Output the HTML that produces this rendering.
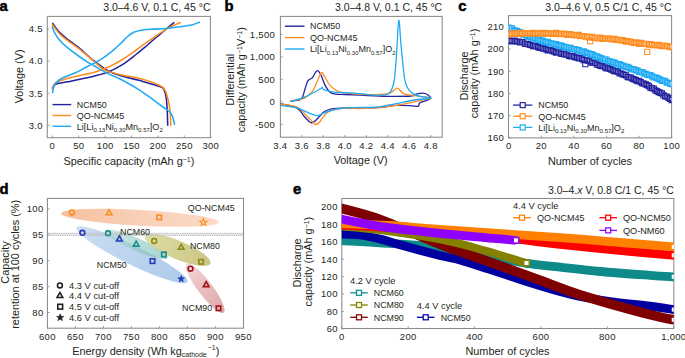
<!DOCTYPE html>
<html><head><meta charset="utf-8"><style>
html,body{margin:0;padding:0;background:#fff;width:685px;height:358px;overflow:hidden}
svg{display:block}
text{font-family:"Liberation Sans", sans-serif}
</style></head><body>
<svg width="685" height="358" viewBox="0 0 685 358">
<text x="-0.5" y="10.8" font-size="14.8" font-weight="bold" fill="#000" stroke="#000" stroke-width="0.5">a</text>
<text x="224.5" y="11" font-size="14.8" font-weight="bold" fill="#000" stroke="#000" stroke-width="0.5">b</text>
<text x="458.3" y="11" font-size="14.8" font-weight="bold" fill="#000" stroke="#000" stroke-width="0.5">c</text>
<text x="-0.5" y="194.2" font-size="14.8" font-weight="bold" fill="#000" stroke="#000" stroke-width="0.5">d</text>
<text x="293" y="194.2" font-size="14.8" font-weight="bold" fill="#000" stroke="#000" stroke-width="0.5">e</text>
<rect x="47.3" y="16.4" width="163.10000000000002" height="121.29999999999998" fill="none" stroke="#8a8a8a" stroke-width="1.05"/>
<line x1="52.40" y1="137.7" x2="52.40" y2="135.5" stroke="#8a8a8a" stroke-width="0.8"/>
<text x="52.40" y="149.42" font-size="9.5" text-anchor="middle" fill="#231f20" font-weight="normal" letter-spacing="0.3">0</text>
<line x1="78.80" y1="137.7" x2="78.80" y2="135.5" stroke="#8a8a8a" stroke-width="0.8"/>
<text x="78.80" y="149.42" font-size="9.5" text-anchor="middle" fill="#231f20" font-weight="normal" letter-spacing="0.3">50</text>
<line x1="105.20" y1="137.7" x2="105.20" y2="135.5" stroke="#8a8a8a" stroke-width="0.8"/>
<text x="105.20" y="149.42" font-size="9.5" text-anchor="middle" fill="#231f20" font-weight="normal" letter-spacing="0.3">100</text>
<line x1="131.60" y1="137.7" x2="131.60" y2="135.5" stroke="#8a8a8a" stroke-width="0.8"/>
<text x="131.60" y="149.42" font-size="9.5" text-anchor="middle" fill="#231f20" font-weight="normal" letter-spacing="0.3">150</text>
<line x1="158.00" y1="137.7" x2="158.00" y2="135.5" stroke="#8a8a8a" stroke-width="0.8"/>
<text x="158.00" y="149.42" font-size="9.5" text-anchor="middle" fill="#231f20" font-weight="normal" letter-spacing="0.3">200</text>
<line x1="184.40" y1="137.7" x2="184.40" y2="135.5" stroke="#8a8a8a" stroke-width="0.8"/>
<text x="184.40" y="149.42" font-size="9.5" text-anchor="middle" fill="#231f20" font-weight="normal" letter-spacing="0.3">250</text>
<line x1="210.80" y1="137.7" x2="210.80" y2="135.5" stroke="#8a8a8a" stroke-width="0.8"/>
<text x="210.80" y="149.42" font-size="9.5" text-anchor="middle" fill="#231f20" font-weight="normal" letter-spacing="0.3">300</text>
<line x1="47.3" y1="125.30" x2="49.5" y2="125.30" stroke="#8a8a8a" stroke-width="0.8"/>
<text x="42.80" y="128.62" font-size="9.5" text-anchor="end" fill="#231f20" font-weight="normal" letter-spacing="0.3">3.0</text>
<line x1="47.3" y1="93.20" x2="49.5" y2="93.20" stroke="#8a8a8a" stroke-width="0.8"/>
<text x="42.80" y="96.52" font-size="9.5" text-anchor="end" fill="#231f20" font-weight="normal" letter-spacing="0.3">3.5</text>
<line x1="47.3" y1="61.10" x2="49.5" y2="61.10" stroke="#8a8a8a" stroke-width="0.8"/>
<text x="42.80" y="64.42" font-size="9.5" text-anchor="end" fill="#231f20" font-weight="normal" letter-spacing="0.3">4.0</text>
<line x1="47.3" y1="29.00" x2="49.5" y2="29.00" stroke="#8a8a8a" stroke-width="0.8"/>
<text x="42.80" y="32.32" font-size="9.5" text-anchor="end" fill="#231f20" font-weight="normal" letter-spacing="0.3">4.5</text>
<text x="128.90" y="165.22" font-size="10.9" text-anchor="middle" fill="#231f20" font-weight="normal">Specific capacity (mAh g<tspan dy="-3" font-size="7">−1</tspan><tspan dy="3">)</tspan></text>
<text x="19.00" y="80.22" font-size="10.9" text-anchor="middle" fill="#231f20" font-weight="normal" transform="rotate(-90 19 76.4)">Voltage (V)</text>
<text x="210.50" y="10.88" font-size="10.5" text-anchor="end" fill="#231f20" font-weight="normal">3.0–4.6 V, 0.1 C, 45 °C</text>
<rect x="280.4" y="16.4" width="161.8" height="120.79999999999998" fill="none" stroke="#8a8a8a" stroke-width="1.05"/>
<line x1="280.40" y1="137.2" x2="280.40" y2="135.0" stroke="#8a8a8a" stroke-width="0.8"/>
<text x="280.40" y="148.82" font-size="9.5" text-anchor="middle" fill="#231f20" font-weight="normal" letter-spacing="0.3">3.4</text>
<line x1="301.89" y1="137.2" x2="301.89" y2="135.0" stroke="#8a8a8a" stroke-width="0.8"/>
<text x="301.89" y="148.82" font-size="9.5" text-anchor="middle" fill="#231f20" font-weight="normal" letter-spacing="0.3">3.6</text>
<line x1="323.38" y1="137.2" x2="323.38" y2="135.0" stroke="#8a8a8a" stroke-width="0.8"/>
<text x="323.38" y="148.82" font-size="9.5" text-anchor="middle" fill="#231f20" font-weight="normal" letter-spacing="0.3">3.8</text>
<line x1="344.87" y1="137.2" x2="344.87" y2="135.0" stroke="#8a8a8a" stroke-width="0.8"/>
<text x="344.87" y="148.82" font-size="9.5" text-anchor="middle" fill="#231f20" font-weight="normal" letter-spacing="0.3">4.0</text>
<line x1="366.36" y1="137.2" x2="366.36" y2="135.0" stroke="#8a8a8a" stroke-width="0.8"/>
<text x="366.36" y="148.82" font-size="9.5" text-anchor="middle" fill="#231f20" font-weight="normal" letter-spacing="0.3">4.2</text>
<line x1="387.85" y1="137.2" x2="387.85" y2="135.0" stroke="#8a8a8a" stroke-width="0.8"/>
<text x="387.85" y="148.82" font-size="9.5" text-anchor="middle" fill="#231f20" font-weight="normal" letter-spacing="0.3">4.4</text>
<line x1="409.34" y1="137.2" x2="409.34" y2="135.0" stroke="#8a8a8a" stroke-width="0.8"/>
<text x="409.34" y="148.82" font-size="9.5" text-anchor="middle" fill="#231f20" font-weight="normal" letter-spacing="0.3">4.6</text>
<line x1="430.83" y1="137.2" x2="430.83" y2="135.0" stroke="#8a8a8a" stroke-width="0.8"/>
<text x="430.83" y="148.82" font-size="9.5" text-anchor="middle" fill="#231f20" font-weight="normal" letter-spacing="0.3">4.8</text>
<line x1="280.4" y1="124.30" x2="282.59999999999997" y2="124.30" stroke="#8a8a8a" stroke-width="0.8"/>
<text x="275.10" y="127.62" font-size="9.5" text-anchor="end" fill="#231f20" font-weight="normal" letter-spacing="0.3">-500</text>
<line x1="280.4" y1="101.80" x2="282.59999999999997" y2="101.80" stroke="#8a8a8a" stroke-width="0.8"/>
<text x="275.10" y="105.12" font-size="9.5" text-anchor="end" fill="#231f20" font-weight="normal" letter-spacing="0.3">0</text>
<line x1="280.4" y1="79.30" x2="282.59999999999997" y2="79.30" stroke="#8a8a8a" stroke-width="0.8"/>
<text x="275.10" y="82.62" font-size="9.5" text-anchor="end" fill="#231f20" font-weight="normal" letter-spacing="0.3">500</text>
<line x1="280.4" y1="56.80" x2="282.59999999999997" y2="56.80" stroke="#8a8a8a" stroke-width="0.8"/>
<text x="275.10" y="60.12" font-size="9.5" text-anchor="end" fill="#231f20" font-weight="normal" letter-spacing="0.3">1,000</text>
<line x1="280.4" y1="34.30" x2="282.59999999999997" y2="34.30" stroke="#8a8a8a" stroke-width="0.8"/>
<text x="275.10" y="37.62" font-size="9.5" text-anchor="end" fill="#231f20" font-weight="normal" letter-spacing="0.3">1,500</text>
<text x="360.60" y="164.31" font-size="10.9" text-anchor="middle" fill="#231f20" font-weight="normal">Voltage (V)</text>
<text x="229.80" y="83.52" font-size="10.9" text-anchor="middle" fill="#231f20" font-weight="normal" transform="rotate(-90 229.8 79.7)">Differential</text>
<text x="241.20" y="83.52" font-size="10.9" text-anchor="middle" fill="#231f20" font-weight="normal" transform="rotate(-90 241.2 79.7)">capacity (mAh g<tspan dy="-3" font-size="7">−1</tspan><tspan dy="3">V</tspan><tspan dy="-3" font-size="7">−1</tspan><tspan dy="3">)</tspan></text>
<text x="442.20" y="10.88" font-size="10.5" text-anchor="end" fill="#231f20" font-weight="normal">3.0–4.8 V, 0.1 C, 45 °C</text>
<rect x="508.5" y="15.6" width="163.10000000000002" height="122.30000000000001" fill="none" stroke="#8a8a8a" stroke-width="1.05"/>
<line x1="508.70" y1="137.9" x2="508.70" y2="135.70000000000002" stroke="#8a8a8a" stroke-width="0.8"/>
<text x="508.70" y="149.32" font-size="9.5" text-anchor="middle" fill="#231f20" font-weight="normal" letter-spacing="0.3">0</text>
<line x1="541.30" y1="137.9" x2="541.30" y2="135.70000000000002" stroke="#8a8a8a" stroke-width="0.8"/>
<text x="541.30" y="149.32" font-size="9.5" text-anchor="middle" fill="#231f20" font-weight="normal" letter-spacing="0.3">20</text>
<line x1="573.90" y1="137.9" x2="573.90" y2="135.70000000000002" stroke="#8a8a8a" stroke-width="0.8"/>
<text x="573.90" y="149.32" font-size="9.5" text-anchor="middle" fill="#231f20" font-weight="normal" letter-spacing="0.3">40</text>
<line x1="606.50" y1="137.9" x2="606.50" y2="135.70000000000002" stroke="#8a8a8a" stroke-width="0.8"/>
<text x="606.50" y="149.32" font-size="9.5" text-anchor="middle" fill="#231f20" font-weight="normal" letter-spacing="0.3">60</text>
<line x1="639.10" y1="137.9" x2="639.10" y2="135.70000000000002" stroke="#8a8a8a" stroke-width="0.8"/>
<text x="639.10" y="149.32" font-size="9.5" text-anchor="middle" fill="#231f20" font-weight="normal" letter-spacing="0.3">80</text>
<line x1="671.70" y1="137.9" x2="671.70" y2="135.70000000000002" stroke="#8a8a8a" stroke-width="0.8"/>
<text x="671.70" y="149.32" font-size="9.5" text-anchor="middle" fill="#231f20" font-weight="normal" letter-spacing="0.3">100</text>
<line x1="508.5" y1="137.90" x2="510.7" y2="137.90" stroke="#8a8a8a" stroke-width="0.8"/>
<text x="504.20" y="141.22" font-size="9.5" text-anchor="end" fill="#231f20" font-weight="normal" letter-spacing="0.3">160</text>
<line x1="508.5" y1="115.68" x2="510.7" y2="115.68" stroke="#8a8a8a" stroke-width="0.8"/>
<text x="504.20" y="119.01" font-size="9.5" text-anchor="end" fill="#231f20" font-weight="normal" letter-spacing="0.3">170</text>
<line x1="508.5" y1="93.46" x2="510.7" y2="93.46" stroke="#8a8a8a" stroke-width="0.8"/>
<text x="504.20" y="96.79" font-size="9.5" text-anchor="end" fill="#231f20" font-weight="normal" letter-spacing="0.3">180</text>
<line x1="508.5" y1="71.24" x2="510.7" y2="71.24" stroke="#8a8a8a" stroke-width="0.8"/>
<text x="504.20" y="74.57" font-size="9.5" text-anchor="end" fill="#231f20" font-weight="normal" letter-spacing="0.3">190</text>
<line x1="508.5" y1="49.02" x2="510.7" y2="49.02" stroke="#8a8a8a" stroke-width="0.8"/>
<text x="504.20" y="52.35" font-size="9.5" text-anchor="end" fill="#231f20" font-weight="normal" letter-spacing="0.3">200</text>
<line x1="508.5" y1="26.80" x2="510.7" y2="26.80" stroke="#8a8a8a" stroke-width="0.8"/>
<text x="504.20" y="30.13" font-size="9.5" text-anchor="end" fill="#231f20" font-weight="normal" letter-spacing="0.3">210</text>
<text x="590.00" y="164.91" font-size="10.9" text-anchor="middle" fill="#231f20" font-weight="normal">Number of cycles</text>
<text x="463.70" y="79.72" font-size="10.9" text-anchor="middle" fill="#231f20" font-weight="normal" transform="rotate(-90 463.7 75.9)">Discharge</text>
<text x="474.10" y="77.31" font-size="10.9" text-anchor="middle" fill="#231f20" font-weight="normal" transform="rotate(-90 474.1 73.5)">capacity (mAh g<tspan dy="-3" font-size="7">−1</tspan><tspan dy="3">)</tspan></text>
<text x="671.60" y="10.88" font-size="10.5" text-anchor="end" fill="#231f20" font-weight="normal">3.0–4.6 V, 0.5 C/1 C, 45 °C</text>
<rect x="47.4" y="198.4" width="196.1" height="129.79999999999998" fill="none" stroke="#8a8a8a" stroke-width="1.05"/>
<line x1="47.40" y1="328.2" x2="47.40" y2="326.0" stroke="#8a8a8a" stroke-width="0.8"/>
<text x="47.40" y="339.62" font-size="9.5" text-anchor="middle" fill="#231f20" font-weight="normal" letter-spacing="0.3">600</text>
<line x1="75.40" y1="328.2" x2="75.40" y2="326.0" stroke="#8a8a8a" stroke-width="0.8"/>
<text x="75.40" y="339.62" font-size="9.5" text-anchor="middle" fill="#231f20" font-weight="normal" letter-spacing="0.3">650</text>
<line x1="103.40" y1="328.2" x2="103.40" y2="326.0" stroke="#8a8a8a" stroke-width="0.8"/>
<text x="103.40" y="339.62" font-size="9.5" text-anchor="middle" fill="#231f20" font-weight="normal" letter-spacing="0.3">700</text>
<line x1="131.40" y1="328.2" x2="131.40" y2="326.0" stroke="#8a8a8a" stroke-width="0.8"/>
<text x="131.40" y="339.62" font-size="9.5" text-anchor="middle" fill="#231f20" font-weight="normal" letter-spacing="0.3">750</text>
<line x1="159.40" y1="328.2" x2="159.40" y2="326.0" stroke="#8a8a8a" stroke-width="0.8"/>
<text x="159.40" y="339.62" font-size="9.5" text-anchor="middle" fill="#231f20" font-weight="normal" letter-spacing="0.3">800</text>
<line x1="187.40" y1="328.2" x2="187.40" y2="326.0" stroke="#8a8a8a" stroke-width="0.8"/>
<text x="187.40" y="339.62" font-size="9.5" text-anchor="middle" fill="#231f20" font-weight="normal" letter-spacing="0.3">850</text>
<line x1="215.40" y1="328.2" x2="215.40" y2="326.0" stroke="#8a8a8a" stroke-width="0.8"/>
<text x="215.40" y="339.62" font-size="9.5" text-anchor="middle" fill="#231f20" font-weight="normal" letter-spacing="0.3">900</text>
<line x1="243.40" y1="328.2" x2="243.40" y2="326.0" stroke="#8a8a8a" stroke-width="0.8"/>
<text x="243.40" y="339.62" font-size="9.5" text-anchor="middle" fill="#231f20" font-weight="normal" letter-spacing="0.3">950</text>
<line x1="47.4" y1="312.50" x2="49.6" y2="312.50" stroke="#8a8a8a" stroke-width="0.8"/>
<text x="43.50" y="315.82" font-size="9.5" text-anchor="end" fill="#231f20" font-weight="normal" letter-spacing="0.3">80</text>
<line x1="47.4" y1="286.62" x2="49.6" y2="286.62" stroke="#8a8a8a" stroke-width="0.8"/>
<text x="43.50" y="289.95" font-size="9.5" text-anchor="end" fill="#231f20" font-weight="normal" letter-spacing="0.3">85</text>
<line x1="47.4" y1="260.75" x2="49.6" y2="260.75" stroke="#8a8a8a" stroke-width="0.8"/>
<text x="43.50" y="264.07" font-size="9.5" text-anchor="end" fill="#231f20" font-weight="normal" letter-spacing="0.3">90</text>
<line x1="47.4" y1="234.88" x2="49.6" y2="234.88" stroke="#8a8a8a" stroke-width="0.8"/>
<text x="43.50" y="238.20" font-size="9.5" text-anchor="end" fill="#231f20" font-weight="normal" letter-spacing="0.3">95</text>
<line x1="47.4" y1="209.00" x2="49.6" y2="209.00" stroke="#8a8a8a" stroke-width="0.8"/>
<text x="43.50" y="212.32" font-size="9.5" text-anchor="end" fill="#231f20" font-weight="normal" letter-spacing="0.3">100</text>
<text x="145.80" y="354.81" font-size="10.9" text-anchor="middle" fill="#231f20" font-weight="normal">Energy density (Wh kg<tspan dy="2.5" font-size="7">cathode</tspan><tspan dy="-7" font-size="7" dx="1">−1</tspan><tspan dy="4.5">)</tspan></text>
<text x="5.00" y="266.31" font-size="10.9" text-anchor="middle" fill="#231f20" font-weight="normal" transform="rotate(-90 5.0 262.5)">Capacity</text>
<text x="15.50" y="268.12" font-size="10.9" text-anchor="middle" fill="#231f20" font-weight="normal" transform="rotate(-90 15.5 264.3)">retention at 100 cycles (%)</text>
<rect x="341.8" y="198.5" width="331.99999999999994" height="130.0" fill="none" stroke="#8a8a8a" stroke-width="1.05"/>
<line x1="341.80" y1="328.5" x2="341.80" y2="326.3" stroke="#8a8a8a" stroke-width="0.8"/>
<text x="341.80" y="339.52" font-size="9.5" text-anchor="middle" fill="#231f20" font-weight="normal" letter-spacing="0.3">0</text>
<line x1="408.20" y1="328.5" x2="408.20" y2="326.3" stroke="#8a8a8a" stroke-width="0.8"/>
<text x="408.20" y="339.52" font-size="9.5" text-anchor="middle" fill="#231f20" font-weight="normal" letter-spacing="0.3">200</text>
<line x1="474.60" y1="328.5" x2="474.60" y2="326.3" stroke="#8a8a8a" stroke-width="0.8"/>
<text x="474.60" y="339.52" font-size="9.5" text-anchor="middle" fill="#231f20" font-weight="normal" letter-spacing="0.3">400</text>
<line x1="541.00" y1="328.5" x2="541.00" y2="326.3" stroke="#8a8a8a" stroke-width="0.8"/>
<text x="541.00" y="339.52" font-size="9.5" text-anchor="middle" fill="#231f20" font-weight="normal" letter-spacing="0.3">600</text>
<line x1="607.40" y1="328.5" x2="607.40" y2="326.3" stroke="#8a8a8a" stroke-width="0.8"/>
<text x="607.40" y="339.52" font-size="9.5" text-anchor="middle" fill="#231f20" font-weight="normal" letter-spacing="0.3">800</text>
<line x1="673.80" y1="328.5" x2="673.80" y2="326.3" stroke="#8a8a8a" stroke-width="0.8"/>
<text x="673.80" y="339.52" font-size="9.5" text-anchor="middle" fill="#231f20" font-weight="normal" letter-spacing="0.3">1,000</text>
<line x1="341.8" y1="328.80" x2="344.0" y2="328.80" stroke="#8a8a8a" stroke-width="0.8"/>
<text x="337.80" y="332.12" font-size="9.5" text-anchor="end" fill="#231f20" font-weight="normal" letter-spacing="0.3">60</text>
<line x1="341.8" y1="311.40" x2="344.0" y2="311.40" stroke="#8a8a8a" stroke-width="0.8"/>
<text x="337.80" y="314.72" font-size="9.5" text-anchor="end" fill="#231f20" font-weight="normal" letter-spacing="0.3">80</text>
<line x1="341.8" y1="294.00" x2="344.0" y2="294.00" stroke="#8a8a8a" stroke-width="0.8"/>
<text x="337.80" y="297.32" font-size="9.5" text-anchor="end" fill="#231f20" font-weight="normal" letter-spacing="0.3">100</text>
<line x1="341.8" y1="276.60" x2="344.0" y2="276.60" stroke="#8a8a8a" stroke-width="0.8"/>
<text x="337.80" y="279.93" font-size="9.5" text-anchor="end" fill="#231f20" font-weight="normal" letter-spacing="0.3">120</text>
<line x1="341.8" y1="259.20" x2="344.0" y2="259.20" stroke="#8a8a8a" stroke-width="0.8"/>
<text x="337.80" y="262.52" font-size="9.5" text-anchor="end" fill="#231f20" font-weight="normal" letter-spacing="0.3">140</text>
<line x1="341.8" y1="241.80" x2="344.0" y2="241.80" stroke="#8a8a8a" stroke-width="0.8"/>
<text x="337.80" y="245.12" font-size="9.5" text-anchor="end" fill="#231f20" font-weight="normal" letter-spacing="0.3">160</text>
<line x1="341.8" y1="224.40" x2="344.0" y2="224.40" stroke="#8a8a8a" stroke-width="0.8"/>
<text x="337.80" y="227.72" font-size="9.5" text-anchor="end" fill="#231f20" font-weight="normal" letter-spacing="0.3">180</text>
<line x1="341.8" y1="207.00" x2="344.0" y2="207.00" stroke="#8a8a8a" stroke-width="0.8"/>
<text x="337.80" y="210.32" font-size="9.5" text-anchor="end" fill="#231f20" font-weight="normal" letter-spacing="0.3">200</text>
<text x="507.50" y="355.01" font-size="10.9" text-anchor="middle" fill="#231f20" font-weight="normal">Number of cycles</text>
<text x="297.60" y="266.81" font-size="10.9" text-anchor="middle" fill="#231f20" font-weight="normal" transform="rotate(-90 297.6 263)">Discharge</text>
<text x="308.60" y="265.42" font-size="10.9" text-anchor="middle" fill="#231f20" font-weight="normal" transform="rotate(-90 308.6 261.6)">capacity (mAh g<tspan dy="-3" font-size="7">−1</tspan><tspan dy="3">)</tspan></text>
<text x="673.80" y="193.88" font-size="10.5" text-anchor="end" fill="#231f20" font-weight="normal">3.0–4.<tspan font-style="italic">x</tspan> V, 0.8 C/1 C, 45 °C</text>
<path d="M52.70,23.40 C53.75,24.80 56.78,29.37 59.00,31.80 C61.22,34.23 62.50,35.18 66.00,38.00 C69.50,40.82 75.50,45.03 80.00,48.70 C84.50,52.37 88.35,56.32 93.00,60.00 C97.65,63.68 103.08,68.13 107.90,70.80 C112.72,73.47 116.55,74.37 121.90,76.00 C127.25,77.63 133.57,78.80 140.00,80.60 C146.43,82.40 156.45,85.13 160.50,86.80 C164.55,88.47 163.35,88.73 164.30,90.60 C165.25,92.47 165.72,94.77 166.20,98.00 C166.68,101.23 166.95,105.47 167.20,110.00 C167.45,114.53 167.62,122.67 167.70,125.20" fill="none" stroke="#2323a0" stroke-width="1.55" stroke-linejoin="round" stroke-linecap="round"/>
<path d="M52.30,88.00 C52.95,87.33 53.68,85.03 56.20,84.00 C58.72,82.97 63.67,82.53 67.40,81.80 C71.13,81.07 74.08,80.57 78.60,79.60 C83.12,78.63 89.52,77.28 94.50,76.00 C99.48,74.72 103.85,73.80 108.50,71.90 C113.15,70.00 117.82,67.50 122.40,64.60 C126.98,61.70 132.23,57.40 136.00,54.50 C139.77,51.60 142.33,49.45 145.00,47.20 C147.67,44.95 149.50,43.15 152.00,41.00 C154.50,38.85 157.25,36.60 160.00,34.30 C162.75,32.00 166.18,29.13 168.50,27.20 C170.82,25.27 173.00,23.45 173.90,22.70" fill="none" stroke="#2323a0" stroke-width="1.55" stroke-linejoin="round" stroke-linecap="round"/>
<path d="M52.30,24.50 C53.42,25.95 56.72,30.72 59.00,33.20 C61.28,35.68 62.50,36.68 66.00,39.40 C69.50,42.12 75.42,45.90 80.00,49.50 C84.58,53.10 89.32,57.57 93.50,61.00 C97.68,64.43 100.37,67.77 105.10,70.10 C109.83,72.43 116.08,73.60 121.90,75.00 C127.72,76.40 133.87,76.83 140.00,78.50 C146.13,80.17 154.50,82.98 158.70,85.00 C162.90,87.02 163.48,87.48 165.20,90.60 C166.92,93.72 168.17,99.97 169.00,103.70 C169.83,107.43 169.90,109.42 170.20,113.00 C170.50,116.58 170.70,123.17 170.80,125.20" fill="none" stroke="#ff8c1f" stroke-width="1.55" stroke-linejoin="round" stroke-linecap="round"/>
<path d="M52.30,89.10 C52.57,88.35 53.07,85.82 53.90,84.60 C54.73,83.38 55.05,82.82 57.30,81.80 C59.55,80.78 63.85,79.52 67.40,78.50 C70.95,77.48 74.08,76.73 78.60,75.70 C83.12,74.67 89.52,73.75 94.50,72.30 C99.48,70.85 103.85,69.13 108.50,67.00 C113.15,64.87 117.67,62.42 122.40,59.50 C127.13,56.58 132.02,52.95 136.90,49.50 C141.78,46.05 146.43,42.42 151.70,38.80 C156.97,35.18 163.75,30.48 168.50,27.80 C173.25,25.12 178.25,23.55 180.20,22.70" fill="none" stroke="#ff8c1f" stroke-width="1.55" stroke-linejoin="round" stroke-linecap="round"/>
<path d="M52.30,26.90 C52.72,27.95 53.68,31.12 54.80,33.20 C55.92,35.28 57.13,37.20 59.00,39.40 C60.87,41.60 62.52,43.47 66.00,46.40 C69.48,49.33 76.23,54.35 79.90,57.00 C83.57,59.65 85.57,60.80 88.00,62.30 C90.43,63.80 91.18,64.12 94.50,66.00 C97.82,67.88 103.15,71.18 107.90,73.60 C112.65,76.02 117.40,77.55 123.00,80.50 C128.60,83.45 134.93,86.97 141.50,91.30 C148.07,95.63 157.67,103.05 162.40,106.50 C167.13,109.95 168.22,110.33 169.90,112.00 C171.58,113.67 171.72,114.45 172.50,116.50 C173.28,118.55 174.25,123.00 174.60,124.30" fill="none" stroke="#1eaaf4" stroke-width="1.55" stroke-linejoin="round" stroke-linecap="round"/>
<path d="M52.60,92.70 C52.83,91.58 53.18,87.90 54.00,86.00 C54.82,84.10 55.83,82.75 57.50,81.30 C59.17,79.85 61.00,78.72 64.00,77.30 C67.00,75.88 71.67,74.55 75.50,72.80 C79.33,71.05 82.82,69.00 87.00,66.80 C91.18,64.60 96.60,62.03 100.60,59.60 C104.60,57.17 107.65,54.88 111.00,52.20 C114.35,49.52 118.03,46.03 120.70,43.50 C123.37,40.97 124.90,38.83 127.00,37.00 C129.10,35.17 131.13,33.58 133.30,32.50 C135.47,31.42 137.05,31.03 140.00,30.50 C142.95,29.97 146.25,29.68 151.00,29.30 C155.75,28.92 162.80,28.75 168.50,28.20 C174.20,27.65 181.02,26.63 185.20,26.00 C189.38,25.37 191.22,25.03 193.60,24.40 C195.98,23.77 198.52,22.57 199.50,22.20" fill="none" stroke="#1eaaf4" stroke-width="1.55" stroke-linejoin="round" stroke-linecap="round"/>
<line x1="52.5" y1="104.6" x2="71.2" y2="104.6" stroke="#2323a0" stroke-width="1.4"/>
<line x1="52.5" y1="115.5" x2="71.2" y2="115.5" stroke="#ff8c1f" stroke-width="1.4"/>
<line x1="52.5" y1="126.3" x2="71.2" y2="126.3" stroke="#1eaaf4" stroke-width="1.4"/>
<text x="76.80" y="107.85" font-size="9.3" text-anchor="start" fill="#231f20" font-weight="normal" textLength="30" lengthAdjust="spacingAndGlyphs">NCM50</text>
<text x="76.80" y="118.75" font-size="9.3" text-anchor="start" fill="#231f20" font-weight="normal" textLength="47.5" lengthAdjust="spacingAndGlyphs">QO-NCM45</text>
<text x="76.80" y="129.56" font-size="9.3" text-anchor="start" fill="#231f20" font-weight="normal" textLength="86" lengthAdjust="spacingAndGlyphs">Li[Li<tspan font-size="6.2" dy="2.6">0.13</tspan><tspan dy="-2.6">Ni</tspan><tspan font-size="6.2" dy="2.6">0.30</tspan><tspan dy="-2.6">Mn</tspan><tspan font-size="6.2" dy="2.6">0.57</tspan><tspan dy="-2.6">]O</tspan><tspan font-size="6.2" dy="2.6">2</tspan></text>
<defs><clipPath id="cb"><rect x="280.4" y="16.4" width="161.8" height="120.8"/></clipPath></defs>
<path d="M290.90,100.90 C292.33,100.72 297.55,100.43 299.50,99.80 C301.45,99.17 301.68,98.90 302.60,97.10 C303.52,95.30 304.18,91.60 305.00,89.00 C305.82,86.40 306.77,83.08 307.50,81.50 C308.23,79.92 308.58,80.15 309.40,79.50 C310.22,78.85 311.10,79.07 312.40,77.60 C313.70,76.13 315.73,71.03 317.20,70.70 C318.67,70.37 319.88,73.15 321.20,75.60 C322.52,78.05 323.63,82.63 325.10,85.40 C326.57,88.17 328.22,90.73 330.00,92.20 C331.78,93.67 333.30,93.82 335.80,94.20 C338.30,94.58 340.97,94.35 345.00,94.50 C349.03,94.65 352.97,94.80 360.00,95.10 C367.03,95.40 378.72,96.15 387.20,96.30 C395.68,96.45 406.05,96.37 410.90,96.00 C415.75,95.63 414.33,94.57 416.30,94.10 C418.27,93.63 420.88,93.13 422.70,93.20 C424.52,93.27 425.85,93.68 427.20,94.50 C428.55,95.32 431.10,97.03 430.80,98.10 C430.50,99.17 427.22,100.13 425.40,100.90 C423.58,101.67 421.12,101.80 419.90,102.70 C418.68,103.60 419.30,105.78 418.10,106.30 C416.90,106.82 416.33,105.95 412.70,105.80 C409.07,105.65 402.05,105.10 396.30,105.40 C390.55,105.70 384.25,107.20 378.20,107.60 C372.15,108.00 365.53,107.75 360.00,107.80 C354.47,107.85 349.68,107.72 345.00,107.90 C340.32,108.08 335.38,108.25 331.90,108.90 C328.42,109.55 326.22,110.50 324.10,111.80 C321.98,113.10 320.83,115.07 319.20,116.70 C317.57,118.33 315.77,120.63 314.30,121.60 C312.83,122.57 312.03,123.32 310.40,122.50 C308.77,121.68 306.78,119.13 304.50,116.70 C302.22,114.27 300.95,110.10 296.70,107.90 C292.45,105.70 281.95,104.23 279.00,103.50" fill="none" stroke="#2323a0" stroke-width="1.3" stroke-linejoin="round" stroke-linecap="round" clip-path="url(#cb)"/>
<path d="M290.90,100.90 C293.17,100.43 300.92,99.70 304.50,98.10 C308.08,96.50 310.28,94.07 312.40,91.30 C314.52,88.53 315.73,84.60 317.20,81.50 C318.67,78.40 320.05,73.68 321.20,72.70 C322.35,71.72 322.63,73.48 324.10,75.60 C325.57,77.72 327.72,82.78 330.00,85.40 C332.28,88.02 335.30,90.07 337.80,91.30 C340.30,92.53 341.30,92.28 345.00,92.80 C348.70,93.32 353.87,94.12 360.00,94.40 C366.13,94.68 376.65,94.78 381.80,94.50 C386.95,94.22 388.33,93.75 390.90,92.70 C393.47,91.65 395.08,88.05 397.20,88.20 C399.32,88.35 401.02,92.40 403.60,93.60 C406.18,94.80 408.17,94.65 412.70,95.40 C417.23,96.15 429.60,97.28 430.80,98.10 C432.00,98.92 423.22,99.53 419.90,100.30 C416.58,101.07 414.83,101.85 410.90,102.70 C406.97,103.55 401.75,104.58 396.30,105.40 C390.85,106.22 384.25,107.08 378.20,107.60 C372.15,108.12 365.53,108.40 360.00,108.50 C354.47,108.60 350.00,107.82 345.00,108.20 C340.00,108.58 333.48,109.55 330.00,110.80 C326.52,112.05 325.90,113.75 324.10,115.70 C322.30,117.65 320.67,121.03 319.20,122.50 C317.73,123.97 316.43,124.65 315.30,124.50 C314.17,124.35 313.87,123.07 312.40,121.60 C310.93,120.13 309.12,118.15 306.50,115.70 C303.88,113.25 301.28,108.85 296.70,106.90 C292.12,104.95 281.95,104.48 279.00,104.00" fill="none" stroke="#ff8c1f" stroke-width="1.3" stroke-linejoin="round" stroke-linecap="round" clip-path="url(#cb)"/>
<path d="M290.90,101.30 C293.17,100.60 300.60,98.62 304.50,97.10 C308.40,95.58 311.52,93.67 314.30,92.20 C317.08,90.73 319.88,89.13 321.20,88.30 C322.52,87.47 321.88,87.03 322.20,87.20 C322.52,87.37 322.47,88.78 323.10,89.30 C323.73,89.82 324.20,89.82 326.00,90.30 C327.80,90.78 330.73,91.82 333.90,92.20 C337.07,92.58 340.65,92.37 345.00,92.60 C349.35,92.83 354.47,93.13 360.00,93.60 C365.53,94.07 373.37,95.40 378.20,95.40 C383.03,95.40 386.43,95.57 389.00,93.60 C391.57,91.63 392.53,87.68 393.60,83.60 C394.67,79.52 394.87,74.70 395.40,69.10 C395.93,63.50 396.23,58.13 396.80,50.00 C397.37,41.87 398.10,21.13 398.80,20.30 C399.50,19.47 400.35,38.05 401.00,45.00 C401.65,51.95 402.12,56.47 402.70,62.00 C403.28,67.53 403.75,74.00 404.50,78.20 C405.25,82.40 405.83,84.63 407.20,87.20 C408.57,89.77 410.58,92.08 412.70,93.60 C414.82,95.12 416.88,95.55 419.90,96.30 C422.92,97.05 431.70,97.48 430.80,98.10 C429.90,98.72 420.25,99.08 414.50,100.00 C408.75,100.92 402.35,102.45 396.30,103.60 C390.25,104.75 384.25,106.25 378.20,106.90 C372.15,107.55 365.53,107.33 360.00,107.50 C354.47,107.67 349.35,107.52 345.00,107.90 C340.65,108.28 337.38,108.98 333.90,109.80 C330.42,110.62 326.88,111.82 324.10,112.80 C321.32,113.78 319.80,115.70 317.20,115.70 C314.60,115.70 311.92,114.10 308.50,112.80 C305.08,111.50 301.62,109.17 296.70,107.90 C291.78,106.63 281.95,105.65 279.00,105.20" fill="none" stroke="#1eaaf4" stroke-width="1.3" stroke-linejoin="round" stroke-linecap="round" clip-path="url(#cb)"/>
<line x1="284.9" y1="26.2" x2="304.5" y2="26.2" stroke="#2323a0" stroke-width="1.4"/>
<line x1="284.9" y1="37.6" x2="304.5" y2="37.6" stroke="#ff8c1f" stroke-width="1.4"/>
<line x1="284.9" y1="49" x2="304.5" y2="49" stroke="#1eaaf4" stroke-width="1.4"/>
<text x="310.10" y="29.45" font-size="9.3" text-anchor="start" fill="#231f20" font-weight="normal" textLength="30" lengthAdjust="spacingAndGlyphs">NCM50</text>
<text x="310.10" y="40.86" font-size="9.3" text-anchor="start" fill="#231f20" font-weight="normal" textLength="47.5" lengthAdjust="spacingAndGlyphs">QO-NCM45</text>
<text x="310.10" y="52.26" font-size="9.3" text-anchor="start" fill="#231f20" font-weight="normal" textLength="85.5" lengthAdjust="spacingAndGlyphs">Li[Li<tspan font-size="6.2" dy="2.6">0.13</tspan><tspan dy="-2.6">Ni</tspan><tspan font-size="6.2" dy="2.6">0.30</tspan><tspan dy="-2.6">Mn</tspan><tspan font-size="6.2" dy="2.6">0.57</tspan><tspan dy="-2.6">]O</tspan><tspan font-size="6.2" dy="2.6">2</tspan></text>
<defs><clipPath id="cc"><rect x="508.5" y="15.6" width="163.1" height="122.3"/></clipPath></defs>
<g clip-path="url(#cc)">
<path d="M506.10,37.48h5.2v5.2h-5.2zM507.73,38.15h5.2v5.2h-5.2zM509.36,38.72h5.2v5.2h-5.2zM510.99,37.98h5.2v5.2h-5.2zM512.62,38.39h5.2v5.2h-5.2zM514.25,39.03h5.2v5.2h-5.2zM515.88,39.08h5.2v5.2h-5.2zM517.51,39.68h5.2v5.2h-5.2zM519.14,39.51h5.2v5.2h-5.2zM520.77,39.84h5.2v5.2h-5.2zM522.40,41.23h5.2v5.2h-5.2zM524.03,41.29h5.2v5.2h-5.2zM525.66,41.48h5.2v5.2h-5.2zM527.29,42.22h5.2v5.2h-5.2zM528.92,42.49h5.2v5.2h-5.2zM530.55,43.53h5.2v5.2h-5.2zM532.18,43.82h5.2v5.2h-5.2zM533.81,43.46h5.2v5.2h-5.2zM535.44,44.56h5.2v5.2h-5.2zM537.07,45.17h5.2v5.2h-5.2zM538.70,45.35h5.2v5.2h-5.2zM540.33,45.94h5.2v5.2h-5.2zM541.96,45.82h5.2v5.2h-5.2zM543.59,46.67h5.2v5.2h-5.2zM545.22,47.74h5.2v5.2h-5.2zM546.85,47.40h5.2v5.2h-5.2zM548.48,47.88h5.2v5.2h-5.2zM550.11,48.61h5.2v5.2h-5.2zM551.74,48.97h5.2v5.2h-5.2zM553.37,49.90h5.2v5.2h-5.2zM555.00,49.74h5.2v5.2h-5.2zM556.63,49.81h5.2v5.2h-5.2zM558.26,51.11h5.2v5.2h-5.2zM559.89,51.32h5.2v5.2h-5.2zM561.52,51.51h5.2v5.2h-5.2zM563.15,51.99h5.2v5.2h-5.2zM564.78,52.03h5.2v5.2h-5.2zM566.41,53.16h5.2v5.2h-5.2zM568.04,53.66h5.2v5.2h-5.2zM569.67,53.23h5.2v5.2h-5.2zM571.30,54.09h5.2v5.2h-5.2zM572.93,54.71h5.2v5.2h-5.2zM574.56,55.11h5.2v5.2h-5.2zM576.19,55.82h5.2v5.2h-5.2zM577.82,55.54h5.2v5.2h-5.2zM579.45,56.23h5.2v5.2h-5.2zM581.08,57.46h5.2v5.2h-5.2zM582.71,61.60h5.2v5.2h-5.2zM584.34,57.81h5.2v5.2h-5.2zM585.97,58.37h5.2v5.2h-5.2zM587.60,58.79h5.2v5.2h-5.2zM589.23,60.09h5.2v5.2h-5.2zM590.86,60.26h5.2v5.2h-5.2zM592.49,60.36h5.2v5.2h-5.2zM594.12,61.77h5.2v5.2h-5.2zM595.75,62.38h5.2v5.2h-5.2zM597.38,62.98h5.2v5.2h-5.2zM599.01,63.60h5.2v5.2h-5.2zM600.64,63.59h5.2v5.2h-5.2zM602.27,64.85h5.2v5.2h-5.2zM603.90,65.75h5.2v5.2h-5.2zM605.53,65.55h5.2v5.2h-5.2zM607.16,66.34h5.2v5.2h-5.2zM608.79,66.96h5.2v5.2h-5.2zM610.42,67.65h5.2v5.2h-5.2zM612.05,68.73h5.2v5.2h-5.2zM613.68,68.57h5.2v5.2h-5.2zM615.31,69.20h5.2v5.2h-5.2zM616.94,70.66h5.2v5.2h-5.2zM618.57,71.02h5.2v5.2h-5.2zM620.20,71.75h5.2v5.2h-5.2zM621.83,72.34h5.2v5.2h-5.2zM623.46,72.80h5.2v5.2h-5.2zM625.09,74.40h5.2v5.2h-5.2zM626.72,74.89h5.2v5.2h-5.2zM628.35,74.94h5.2v5.2h-5.2zM629.98,76.15h5.2v5.2h-5.2zM631.61,76.79h5.2v5.2h-5.2zM633.24,77.63h5.2v5.2h-5.2zM634.87,78.40h5.2v5.2h-5.2zM636.50,78.27h5.2v5.2h-5.2zM638.13,79.50h5.2v5.2h-5.2zM639.76,80.74h5.2v5.2h-5.2zM641.39,80.93h5.2v5.2h-5.2zM643.02,81.88h5.2v5.2h-5.2zM644.65,82.59h5.2v5.2h-5.2zM646.28,83.57h5.2v5.2h-5.2zM647.91,85.19h5.2v5.2h-5.2zM649.54,85.40h5.2v5.2h-5.2zM651.17,86.08h5.2v5.2h-5.2zM652.80,87.69h5.2v5.2h-5.2zM654.43,88.47h5.2v5.2h-5.2zM656.06,89.63h5.2v5.2h-5.2zM657.69,90.39h5.2v5.2h-5.2zM659.32,90.87h5.2v5.2h-5.2zM660.95,92.73h5.2v5.2h-5.2zM662.58,93.72h5.2v5.2h-5.2zM664.21,94.07h5.2v5.2h-5.2zM665.84,95.34h5.2v5.2h-5.2zM667.47,96.16h5.2v5.2h-5.2zM669.10,97.45h5.2v5.2h-5.2z" fill="#fff" stroke="#2323a0" stroke-width="1.05"/>
<path d="M506.10,25.05h5.2v5.2h-5.2zM507.73,25.41h5.2v5.2h-5.2zM509.36,25.78h5.2v5.2h-5.2zM510.99,27.46h5.2v5.2h-5.2zM512.62,28.02h5.2v5.2h-5.2zM514.25,28.28h5.2v5.2h-5.2zM515.88,29.33h5.2v5.2h-5.2zM517.51,29.88h5.2v5.2h-5.2zM519.14,31.08h5.2v5.2h-5.2zM520.77,31.94h5.2v5.2h-5.2zM522.40,31.75h5.2v5.2h-5.2zM524.03,32.90h5.2v5.2h-5.2zM525.66,33.97h5.2v5.2h-5.2zM527.29,34.27h5.2v5.2h-5.2zM528.92,35.05h5.2v5.2h-5.2zM530.55,35.14h5.2v5.2h-5.2zM532.18,35.82h5.2v5.2h-5.2zM533.81,37.15h5.2v5.2h-5.2zM535.44,36.97h5.2v5.2h-5.2zM537.07,37.24h5.2v5.2h-5.2zM538.70,38.09h5.2v5.2h-5.2zM540.33,38.39h5.2v5.2h-5.2zM541.96,39.31h5.2v5.2h-5.2zM543.59,39.41h5.2v5.2h-5.2zM545.22,39.22h5.2v5.2h-5.2zM546.85,40.49h5.2v5.2h-5.2zM548.48,40.94h5.2v5.2h-5.2zM550.11,40.98h5.2v5.2h-5.2zM551.74,41.56h5.2v5.2h-5.2zM553.37,41.59h5.2v5.2h-5.2zM555.00,42.54h5.2v5.2h-5.2zM556.63,43.35h5.2v5.2h-5.2zM558.26,42.86h5.2v5.2h-5.2zM559.89,43.48h5.2v5.2h-5.2zM561.52,44.21h5.2v5.2h-5.2zM563.15,44.45h5.2v5.2h-5.2zM564.78,45.17h5.2v5.2h-5.2zM566.41,44.94h5.2v5.2h-5.2zM568.04,45.24h5.2v5.2h-5.2zM569.67,46.55h5.2v5.2h-5.2zM571.30,46.53h5.2v5.2h-5.2zM572.93,46.71h5.2v5.2h-5.2zM574.56,47.33h5.2v5.2h-5.2zM576.19,47.57h5.2v5.2h-5.2zM577.82,48.70h5.2v5.2h-5.2zM579.45,49.01h5.2v5.2h-5.2zM581.08,48.72h5.2v5.2h-5.2zM582.71,49.87h5.2v5.2h-5.2zM584.34,50.52h5.2v5.2h-5.2zM585.97,50.88h5.2v5.2h-5.2zM587.60,51.57h5.2v5.2h-5.2zM589.23,51.52h5.2v5.2h-5.2zM590.86,52.58h5.2v5.2h-5.2zM592.49,53.84h5.2v5.2h-5.2zM594.12,53.72h5.2v5.2h-5.2zM595.75,54.40h5.2v5.2h-5.2zM597.38,55.19h5.2v5.2h-5.2zM599.01,55.72h5.2v5.2h-5.2zM600.64,56.84h5.2v5.2h-5.2zM602.27,56.79h5.2v5.2h-5.2zM603.90,57.01h5.2v5.2h-5.2zM605.53,58.42h5.2v5.2h-5.2zM607.16,58.77h5.2v5.2h-5.2zM608.79,59.19h5.2v5.2h-5.2zM610.42,59.75h5.2v5.2h-5.2zM612.05,59.90h5.2v5.2h-5.2zM613.68,61.22h5.2v5.2h-5.2zM615.31,61.85h5.2v5.2h-5.2zM616.94,61.59h5.2v5.2h-5.2zM618.57,62.55h5.2v5.2h-5.2zM620.20,63.21h5.2v5.2h-5.2zM621.83,63.80h5.2v5.2h-5.2zM623.46,64.63h5.2v5.2h-5.2zM625.09,64.39h5.2v5.2h-5.2zM626.72,65.18h5.2v5.2h-5.2zM628.35,66.47h5.2v5.2h-5.2zM629.98,66.48h5.2v5.2h-5.2zM631.61,67.03h5.2v5.2h-5.2zM633.24,67.55h5.2v5.2h-5.2zM634.87,68.01h5.2v5.2h-5.2zM636.50,69.35h5.2v5.2h-5.2zM638.13,69.44h5.2v5.2h-5.2zM639.76,69.49h5.2v5.2h-5.2zM641.39,70.76h5.2v5.2h-5.2zM643.02,71.28h5.2v5.2h-5.2zM644.65,71.95h5.2v5.2h-5.2zM646.28,72.54h5.2v5.2h-5.2zM647.91,72.52h5.2v5.2h-5.2zM649.54,73.87h5.2v5.2h-5.2zM651.17,74.81h5.2v5.2h-5.2zM652.80,74.73h5.2v5.2h-5.2zM654.43,75.59h5.2v5.2h-5.2zM656.06,76.20h5.2v5.2h-5.2zM657.69,77.00h5.2v5.2h-5.2zM659.32,78.15h5.2v5.2h-5.2zM660.95,77.97h5.2v5.2h-5.2zM662.58,78.61h5.2v5.2h-5.2zM664.21,79.99h5.2v5.2h-5.2zM665.84,80.32h5.2v5.2h-5.2zM667.47,81.04h5.2v5.2h-5.2zM669.10,81.48h5.2v5.2h-5.2z" fill="#fff" stroke="#1eaaf4" stroke-width="1.05"/>
<path d="M506.10,31.99h5.2v5.2h-5.2zM507.73,31.17h5.2v5.2h-5.2zM509.36,30.86h5.2v5.2h-5.2zM510.99,31.32h5.2v5.2h-5.2zM512.62,31.06h5.2v5.2h-5.2zM514.25,31.26h5.2v5.2h-5.2zM515.88,30.88h5.2v5.2h-5.2zM517.51,30.28h5.2v5.2h-5.2zM519.14,31.10h5.2v5.2h-5.2zM520.77,31.03h5.2v5.2h-5.2zM522.40,30.47h5.2v5.2h-5.2zM524.03,30.68h5.2v5.2h-5.2zM525.66,30.41h5.2v5.2h-5.2zM527.29,30.83h5.2v5.2h-5.2zM528.92,31.11h5.2v5.2h-5.2zM530.55,30.17h5.2v5.2h-5.2zM532.18,30.45h5.2v5.2h-5.2zM533.81,30.91h5.2v5.2h-5.2zM535.44,30.63h5.2v5.2h-5.2zM537.07,30.84h5.2v5.2h-5.2zM538.70,30.36h5.2v5.2h-5.2zM540.33,30.34h5.2v5.2h-5.2zM541.96,31.24h5.2v5.2h-5.2zM543.59,30.73h5.2v5.2h-5.2zM545.22,30.43h5.2v5.2h-5.2zM546.85,30.79h5.2v5.2h-5.2zM548.48,30.66h5.2v5.2h-5.2zM550.11,31.21h5.2v5.2h-5.2zM551.74,31.05h5.2v5.2h-5.2zM553.37,30.36h5.2v5.2h-5.2zM555.00,31.17h5.2v5.2h-5.2zM556.63,31.40h5.2v5.2h-5.2zM558.26,31.13h5.2v5.2h-5.2zM559.89,31.37h5.2v5.2h-5.2zM561.52,31.01h5.2v5.2h-5.2zM563.15,31.55h5.2v5.2h-5.2zM564.78,32.21h5.2v5.2h-5.2zM566.41,31.48h5.2v5.2h-5.2zM568.04,31.69h5.2v5.2h-5.2zM569.67,32.18h5.2v5.2h-5.2zM571.30,32.21h5.2v5.2h-5.2zM572.93,32.78h5.2v5.2h-5.2zM574.56,32.40h5.2v5.2h-5.2zM576.19,32.36h5.2v5.2h-5.2zM577.82,33.54h5.2v5.2h-5.2zM579.45,33.54h5.2v5.2h-5.2zM581.08,33.54h5.2v5.2h-5.2zM582.71,33.96h5.2v5.2h-5.2zM584.34,33.93h5.2v5.2h-5.2zM585.97,34.84h5.2v5.2h-5.2zM587.60,38.60h5.2v5.2h-5.2zM589.23,34.34h5.2v5.2h-5.2zM590.86,35.00h5.2v5.2h-5.2zM592.49,35.34h5.2v5.2h-5.2zM594.12,35.34h5.2v5.2h-5.2zM595.75,35.66h5.2v5.2h-5.2zM597.38,35.10h5.2v5.2h-5.2zM599.01,35.49h5.2v5.2h-5.2zM600.64,36.33h5.2v5.2h-5.2zM602.27,35.76h5.2v5.2h-5.2zM603.90,35.81h5.2v5.2h-5.2zM605.53,36.07h5.2v5.2h-5.2zM607.16,36.10h5.2v5.2h-5.2zM608.79,36.87h5.2v5.2h-5.2zM610.42,36.51h5.2v5.2h-5.2zM612.05,36.16h5.2v5.2h-5.2zM613.68,37.15h5.2v5.2h-5.2zM615.31,37.27h5.2v5.2h-5.2zM616.94,37.37h5.2v5.2h-5.2zM618.57,37.66h5.2v5.2h-5.2zM620.20,37.41h5.2v5.2h-5.2zM621.83,38.39h5.2v5.2h-5.2zM623.46,38.94h5.2v5.2h-5.2zM625.09,38.41h5.2v5.2h-5.2zM626.72,38.99h5.2v5.2h-5.2zM628.35,39.39h5.2v5.2h-5.2zM629.98,39.72h5.2v5.2h-5.2zM631.61,40.38h5.2v5.2h-5.2zM633.24,39.85h5.2v5.2h-5.2zM634.87,40.14h5.2v5.2h-5.2zM636.50,41.16h5.2v5.2h-5.2zM638.13,40.30h5.2v5.2h-5.2zM639.76,41.07h5.2v5.2h-5.2zM641.39,41.20h5.2v5.2h-5.2zM643.02,41.17h5.2v5.2h-5.2zM644.65,49.20h5.2v5.2h-5.2zM646.28,42.00h5.2v5.2h-5.2zM647.91,41.51h5.2v5.2h-5.2zM649.54,42.26h5.2v5.2h-5.2zM651.17,42.40h5.2v5.2h-5.2zM652.80,42.64h5.2v5.2h-5.2zM654.43,42.86h5.2v5.2h-5.2zM656.06,42.27h5.2v5.2h-5.2zM657.69,43.01h5.2v5.2h-5.2zM659.32,43.63h5.2v5.2h-5.2zM660.95,43.10h5.2v5.2h-5.2zM662.58,43.38h5.2v5.2h-5.2zM664.21,43.46h5.2v5.2h-5.2zM665.84,43.70h5.2v5.2h-5.2zM667.47,44.48h5.2v5.2h-5.2zM669.10,43.88h5.2v5.2h-5.2z" fill="#fff" stroke="#ff8c1f" stroke-width="1.05"/>
</g>
<line x1="513.1" y1="105.1" x2="532.3" y2="105.1" stroke="#2323a0" stroke-width="1.3"/>
<rect x="520.2" y="102.6" width="5" height="5" fill="#fff" stroke="#2323a0" stroke-width="1.2"/>
<line x1="513.1" y1="116.25" x2="532.3" y2="116.25" stroke="#ff8c1f" stroke-width="1.3"/>
<rect x="520.2" y="113.75" width="5" height="5" fill="#fff" stroke="#ff8c1f" stroke-width="1.2"/>
<line x1="513.1" y1="127.4" x2="532.3" y2="127.4" stroke="#1eaaf4" stroke-width="1.3"/>
<rect x="520.2" y="124.9" width="5" height="5" fill="#fff" stroke="#1eaaf4" stroke-width="1.2"/>
<text x="538.30" y="108.35" font-size="9.3" text-anchor="start" fill="#231f20" font-weight="normal" textLength="30" lengthAdjust="spacingAndGlyphs">NCM50</text>
<text x="538.30" y="119.50" font-size="9.3" text-anchor="start" fill="#231f20" font-weight="normal" textLength="47.5" lengthAdjust="spacingAndGlyphs">QO-NCM45</text>
<text x="538.30" y="130.66" font-size="9.3" text-anchor="start" fill="#231f20" font-weight="normal" textLength="86" lengthAdjust="spacingAndGlyphs">Li[Li<tspan font-size="6.2" dy="2.6">0.13</tspan><tspan dy="-2.6">Ni</tspan><tspan font-size="6.2" dy="2.6">0.30</tspan><tspan dy="-2.6">Mn</tspan><tspan font-size="6.2" dy="2.6">0.57</tspan><tspan dy="-2.6">]O</tspan><tspan font-size="6.2" dy="2.6">2</tspan></text>
<defs><clipPath id="cd"><rect x="47.4" y="198.4" width="196.1" height="129.8"/></clipPath><linearGradient id="gOr" x1="0" x2="1" y1="0" y2="0"><stop offset="0" stop-color="#f5b48e"/><stop offset="0.5" stop-color="#f8c8ab"/><stop offset="1" stop-color="#fad3bd"/></linearGradient><linearGradient id="gBl" x1="0" x2="1" y1="0" y2="0"><stop offset="0" stop-color="#c6dbf1"/><stop offset="1" stop-color="#a6c6e8"/></linearGradient><linearGradient id="gTe" x1="0" x2="1" y1="0" y2="0"><stop offset="0" stop-color="#a9d6d0"/><stop offset="1" stop-color="#6fbab1"/></linearGradient><linearGradient id="gOl" x1="0" x2="1" y1="0" y2="0"><stop offset="0" stop-color="#d9d596"/><stop offset="1" stop-color="#c2bc70"/></linearGradient><linearGradient id="gRe" x1="0" x2="1" y1="0" y2="0"><stop offset="0" stop-color="#f0cccd"/><stop offset="1" stop-color="#d9979c"/></linearGradient></defs>
<g clip-path="url(#cd)">
<ellipse cx="140" cy="217.8" rx="79" ry="7.9" transform="rotate(3.2 140 217.8)" fill="url(#gOr)" fill-opacity="0.85"/>
<ellipse cx="132" cy="254.8" rx="61.8" ry="9.6" transform="rotate(26.1 132 254.8)" fill="url(#gBl)" fill-opacity="0.92"/>
<ellipse cx="136.2" cy="244.3" rx="34.2" ry="6.4" transform="rotate(23.4 136.2 244.3)" fill="url(#gTe)" fill-opacity="0.6"/>
<ellipse cx="177.7" cy="249.9" rx="35.5" ry="9.2" transform="rotate(22.7 177.7 249.9)" fill="url(#gOl)" fill-opacity="0.85"/>
<ellipse cx="205.2" cy="288.2" rx="30.7" ry="7.2" transform="rotate(52.7 205.2 288.2)" fill="url(#gRe)" fill-opacity="0.85"/>
<line x1="48" y1="233.6" x2="243" y2="233.6" stroke="#bcbcbc" stroke-width="1.5" stroke-dasharray="1.3 0.9"/>
<line x1="48" y1="235.2" x2="243" y2="235.2" stroke="#bcbcbc" stroke-width="1.5" stroke-dasharray="1.3 0.9" stroke-dashoffset="1.1"/>
<circle cx="71.9" cy="212.4" r="2.45" fill="none" stroke="#f7901e" stroke-width="1.6"/>
<path d="M109.10,209.79 L112.00,214.81 L106.20,214.81 Z" fill="none" stroke="#f7901e" stroke-width="1.55" stroke-linejoin="miter"/>
<rect x="156.95" y="215.15" width="4.5" height="4.5" fill="none" stroke="#f7901e" stroke-width="1.6"/>
<polygon points="203.40,218.50 204.34,221.01 207.01,221.13 204.92,222.79 205.63,225.37 203.40,223.90 201.17,225.37 201.88,222.79 199.79,221.13 202.46,221.01" fill="none" stroke="#f7901e" stroke-width="1.1" stroke-linejoin="miter"/>
<circle cx="82.4" cy="232.8" r="2.45" fill="none" stroke="#2b3bb5" stroke-width="1.6"/>
<path d="M119.40,235.89 L122.30,240.91 L116.50,240.91 Z" fill="none" stroke="#2b3bb5" stroke-width="1.55" stroke-linejoin="miter"/>
<rect x="150.25" y="258.85" width="4.5" height="4.5" fill="none" stroke="#2b3bb5" stroke-width="1.6"/>
<polygon points="181.20,275.60 182.04,277.84 184.43,277.95 182.56,279.44 183.20,281.75 181.20,280.43 179.20,281.75 179.84,279.44 177.97,277.95 180.36,277.84" fill="#2b3bb5" stroke="#2b3bb5" stroke-width="0.8" stroke-linejoin="miter"/>
<circle cx="108.0" cy="233.3" r="2.45" fill="none" stroke="#1d8d8d" stroke-width="1.6"/>
<path d="M136.20,241.09 L139.10,246.11 L133.30,246.11 Z" fill="none" stroke="#1d8d8d" stroke-width="1.55" stroke-linejoin="miter"/>
<rect x="161.65" y="252.15" width="4.5" height="4.5" fill="none" stroke="#1d8d8d" stroke-width="1.6"/>
<circle cx="154.2" cy="241.0" r="2.45" fill="none" stroke="#8c8a16" stroke-width="1.6"/>
<path d="M181.20,244.29 L184.10,249.31 L178.30,249.31 Z" fill="none" stroke="#8c8a16" stroke-width="1.55" stroke-linejoin="miter"/>
<rect x="198.75" y="259.55" width="4.5" height="4.5" fill="none" stroke="#8c8a16" stroke-width="1.6"/>
<circle cx="190.5" cy="268.7" r="2.45" fill="none" stroke="#a0141c" stroke-width="1.6"/>
<path d="M206.20,281.59 L209.10,286.61 L203.30,286.61 Z" fill="none" stroke="#a0141c" stroke-width="1.55" stroke-linejoin="miter"/>
<rect x="216.25" y="306.05" width="4.5" height="4.5" fill="none" stroke="#a0141c" stroke-width="1.6"/>
</g>
<text x="187.80" y="211.25" font-size="9.3" text-anchor="start" fill="#231f20" font-weight="normal" textLength="47" lengthAdjust="spacingAndGlyphs">QO-NCM45</text>
<text x="120.00" y="235.06" font-size="9.3" text-anchor="start" fill="#231f20" font-weight="normal" textLength="30" lengthAdjust="spacingAndGlyphs">NCM60</text>
<text x="189.90" y="248.66" font-size="9.3" text-anchor="start" fill="#231f20" font-weight="normal" textLength="30" lengthAdjust="spacingAndGlyphs">NCM80</text>
<text x="96.80" y="267.95" font-size="9.3" text-anchor="start" fill="#231f20" font-weight="normal" textLength="30" lengthAdjust="spacingAndGlyphs">NCM50</text>
<text x="182.10" y="311.15" font-size="9.3" text-anchor="start" fill="#231f20" font-weight="normal" textLength="30" lengthAdjust="spacingAndGlyphs">NCM90</text>
<circle cx="59.9" cy="285.4" r="2.45" fill="none" stroke="#231f20" stroke-width="1.6"/>
<path d="M59.90,292.49 L62.80,297.51 L57.00,297.51 Z" fill="none" stroke="#231f20" stroke-width="1.55" stroke-linejoin="miter"/>
<rect x="57.80" y="304.30" width="4.8" height="4.8" fill="none" stroke="#231f20" stroke-width="1.6"/>
<polygon points="60.20,313.90 61.11,316.34 63.72,316.46 61.68,318.08 62.37,320.59 60.20,319.15 58.03,320.59 58.72,318.08 56.68,316.46 59.29,316.34" fill="#231f20" stroke="#231f20" stroke-width="0.7" stroke-linejoin="miter"/>
<text x="69.10" y="288.65" font-size="9.3" text-anchor="start" fill="#231f20" font-weight="normal">4.3 V cut-off</text>
<text x="69.10" y="299.15" font-size="9.3" text-anchor="start" fill="#231f20" font-weight="normal">4.4 V cut-off</text>
<text x="69.10" y="309.75" font-size="9.3" text-anchor="start" fill="#231f20" font-weight="normal">4.5 V cut-off</text>
<text x="69.10" y="320.65" font-size="9.3" text-anchor="start" fill="#231f20" font-weight="normal">4.6 V cut-off</text>
<defs><clipPath id="ce"><rect x="341.8" y="198.5" width="332" height="130"/></clipPath></defs>
<g clip-path="url(#ce)">
<path d="M338.00,240.50 C345.00,240.88 363.00,241.63 380.00,242.80 C397.00,243.97 421.00,245.05 440.00,247.50 C459.00,249.95 479.58,254.87 494.00,257.50 C508.42,260.13 515.50,261.68 526.50,263.30 C537.50,264.92 547.75,265.83 560.00,267.20 C572.25,268.57 585.00,270.15 600.00,271.50 C615.00,272.85 637.67,274.42 650.00,275.30 C662.33,276.18 670.00,276.55 674.00,276.80" fill="none" stroke="#0f8a8a" stroke-width="8.8" stroke-linejoin="round" stroke-linecap="butt"/>
<rect x="671.00" y="274.00" width="5.6" height="5.6" fill="#fff" stroke="#0f8a8a" stroke-width="1.5"/>
<path d="M338.00,234.00 C341.67,234.17 353.00,234.17 360.00,235.00 C367.00,235.83 373.33,237.37 380.00,239.00 C386.67,240.63 390.00,242.05 400.00,244.80 C410.00,247.55 429.17,252.72 440.00,255.50 C450.83,258.28 450.00,257.00 465.00,261.50 C480.00,266.00 514.17,277.50 530.00,282.50 C545.83,287.50 551.67,289.17 560.00,291.50 C568.33,293.83 571.67,294.83 580.00,296.50 C588.33,298.17 598.33,299.88 610.00,301.50 C621.67,303.12 639.33,304.85 650.00,306.20 C660.67,307.55 670.00,309.03 674.00,309.60" fill="none" stroke="#0000a0" stroke-width="8.8" stroke-linejoin="round" stroke-linecap="butt"/>
<rect x="671.00" y="306.80" width="5.6" height="5.6" fill="#fff" stroke="#0000a0" stroke-width="1.5"/>
<path d="M338.00,207.50 C345.00,209.50 363.00,213.38 380.00,219.50 C397.00,225.62 421.67,237.08 440.00,244.20 C458.33,251.32 473.33,256.20 490.00,262.20 C506.67,268.20 525.00,274.77 540.00,280.20 C555.00,285.63 561.67,289.05 580.00,294.80 C598.33,300.55 634.33,310.53 650.00,314.70 C665.67,318.87 670.00,318.95 674.00,319.80" fill="none" stroke="#7f0000" stroke-width="9.6" stroke-linejoin="round" stroke-linecap="butt"/>
<rect x="671.00" y="317.00" width="5.6" height="5.6" fill="#fff" stroke="#7f0000" stroke-width="1.5"/>
<path d="M338.00,226.00 C345.00,226.67 363.00,227.78 380.00,230.00 C397.00,232.22 422.83,235.97 440.00,239.30 C457.17,242.63 468.58,246.02 483.00,250.00 C497.42,253.98 519.25,261.00 526.50,263.20" fill="none" stroke="#858000" stroke-width="8.0" stroke-linejoin="round" stroke-linecap="butt"/>
<rect x="523.70" y="260.20" width="5.6" height="5.6" fill="#fff" stroke="#858000" stroke-width="1.5"/>
<path d="M338.00,224.60 C355.00,225.67 410.33,228.60 440.00,231.00 C469.67,233.40 496.00,236.75 516.00,239.00 C536.00,241.25 539.33,242.27 560.00,244.50 C580.67,246.73 621.00,250.60 640.00,252.40 C659.00,254.20 668.33,254.82 674.00,255.30" fill="none" stroke="#ff0000" stroke-width="8.8" stroke-linejoin="round" stroke-linecap="butt"/>
<rect x="671.00" y="252.50" width="5.6" height="5.6" fill="#fff" stroke="#ff0000" stroke-width="1.5"/>
<path d="M338.00,223.50 C346.67,223.83 373.00,224.50 390.00,225.50 C407.00,226.50 411.67,227.47 440.00,229.50 C468.33,231.53 530.00,235.53 560.00,237.70 C590.00,239.87 601.00,240.97 620.00,242.50 C639.00,244.03 665.00,246.17 674.00,246.90" fill="none" stroke="#ff8000" stroke-width="8.8" stroke-linejoin="round" stroke-linecap="butt"/>
<rect x="671.00" y="244.10" width="5.6" height="5.6" fill="#fff" stroke="#ff8000" stroke-width="1.5"/>
<path d="M338.00,218.50 C345.00,219.80 363.00,223.83 380.00,226.30 C397.00,228.77 417.33,230.97 440.00,233.30 C462.67,235.63 503.33,239.13 516.00,240.30" fill="none" stroke="#8f00ff" stroke-width="8.8" stroke-linejoin="round" stroke-linecap="butt"/>
<rect x="513.20" y="237.50" width="5.6" height="5.6" fill="#fff" stroke="#8f00ff" stroke-width="1.5"/>
</g>
<text x="350.00" y="284.15" font-size="9.3" text-anchor="start" fill="#231f20" font-weight="normal">4.2 V cycle</text>
<line x1="350.2" y1="292.8" x2="367.8" y2="292.8" stroke="#0f8a8a" stroke-width="1.3"/>
<rect x="356.50" y="290.30" width="5.0" height="5.0" fill="#fff" stroke="#0f8a8a" stroke-width="1.25"/>
<text x="373.80" y="296.06" font-size="9.3" text-anchor="start" fill="#231f20" font-weight="normal" textLength="30" lengthAdjust="spacingAndGlyphs">NCM60</text>
<line x1="350.2" y1="305.0" x2="367.8" y2="305.0" stroke="#858000" stroke-width="1.3"/>
<rect x="356.50" y="302.50" width="5.0" height="5.0" fill="#fff" stroke="#858000" stroke-width="1.25"/>
<text x="373.80" y="308.25" font-size="9.3" text-anchor="start" fill="#231f20" font-weight="normal" textLength="30" lengthAdjust="spacingAndGlyphs">NCM80</text>
<line x1="350.2" y1="317.3" x2="367.8" y2="317.3" stroke="#7f0000" stroke-width="1.3"/>
<rect x="356.50" y="314.80" width="5.0" height="5.0" fill="#fff" stroke="#7f0000" stroke-width="1.25"/>
<text x="373.80" y="320.56" font-size="9.3" text-anchor="start" fill="#231f20" font-weight="normal" textLength="30" lengthAdjust="spacingAndGlyphs">NCM90</text>
<text x="416.70" y="308.86" font-size="9.3" text-anchor="start" fill="#231f20" font-weight="normal">4.4 V cycle</text>
<line x1="416.9" y1="317.3" x2="434.5" y2="317.3" stroke="#0000a0" stroke-width="1.3"/>
<rect x="423.20" y="314.80" width="5.0" height="5.0" fill="#fff" stroke="#0000a0" stroke-width="1.25"/>
<text x="440.70" y="320.56" font-size="9.3" text-anchor="start" fill="#231f20" font-weight="normal" textLength="30" lengthAdjust="spacingAndGlyphs">NCM50</text>
<text x="513.00" y="209.25" font-size="9.3" text-anchor="start" fill="#231f20" font-weight="normal">4.4 V cycle</text>
<line x1="513.2" y1="217.7" x2="530.8000000000001" y2="217.7" stroke="#ff8000" stroke-width="1.3"/>
<rect x="519.50" y="215.20" width="5.0" height="5.0" fill="#fff" stroke="#ff8000" stroke-width="1.25"/>
<text x="537.00" y="220.95" font-size="9.3" text-anchor="start" fill="#231f20" font-weight="normal" textLength="47.5" lengthAdjust="spacingAndGlyphs">QO-NCM45</text>
<line x1="599.4" y1="217.7" x2="617.0" y2="217.7" stroke="#ff0000" stroke-width="1.3"/>
<rect x="605.70" y="215.20" width="5.0" height="5.0" fill="#fff" stroke="#ff0000" stroke-width="1.25"/>
<text x="622.90" y="220.95" font-size="9.3" text-anchor="start" fill="#231f20" font-weight="normal" textLength="48" lengthAdjust="spacingAndGlyphs">QO-NCM50</text>
<line x1="599.4" y1="230.4" x2="617.0" y2="230.4" stroke="#8f00ff" stroke-width="1.3"/>
<rect x="605.70" y="227.90" width="5.0" height="5.0" fill="#fff" stroke="#8f00ff" stroke-width="1.25"/>
<text x="622.90" y="233.66" font-size="9.3" text-anchor="start" fill="#231f20" font-weight="normal" textLength="41.8" lengthAdjust="spacingAndGlyphs">QO-NM60</text>
</svg></body></html>
